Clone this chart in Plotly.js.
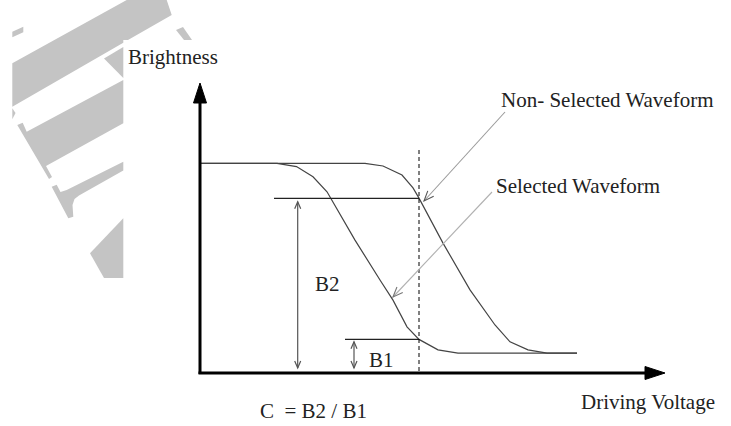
<!DOCTYPE html>
<html>
<head>
<meta charset="utf-8">
<script src="https://cdn.plot.ly/plotly-3.0.1.min.js"></script>
<style>html,body{margin:0;padding:0;background:#fff;}#chart{width:731px;height:426px;}</style>
</head>
<body>
<div id="chart"></div>
<script>
// ---- data (driving voltage units, brightness units) ----
const nonSelectedV = [0, 3.3, 3.66, 4.04, 4.26, 4.38, 4.86, 5.4, 5.9, 6.2, 6.56, 6.94, 7.54];
const nonSelectedB = [6.99, 6.99, 6.9, 6.6, 6.17, 5.83, 4.33, 2.77, 1.6, 1.04, 0.77, 0.66, 0.66];
const selectedV = [0, 1.54, 1.93, 2.26, 2.54, 2.67, 3.1, 3.6, 3.86, 4.14, 4.38, 4.76, 5.16, 7.54];
const selectedB = [6.99, 6.99, 6.88, 6.54, 6.04, 5.66, 4.43, 3.1, 2.43, 1.54, 1.12, 0.77, 0.66, 0.66];
const levelB2 = 5.82;
const levelB1 = 1.12;
const selectV = 4.38;
const labels = {
  yTitle: 'Brightness', xTitle: 'Driving Voltage',
  nonSel: 'Non- Selected Waveform', sel: 'Selected Waveform',
  b2: 'B2', b1: 'B1', formula: 'C&nbsp;&nbsp;= B2 / B1'
};

// ---- pixel <-> data helpers (plot area = full page) ----
const W = 731, H = 426, OX = 200, OY = 373, SX = 50, SY = 30;
const X = px => (px - OX) / SX;
const Y = py => (OY - py) / SY;
const P = pts => 'M ' + pts.map(p => X(p[0]) + ',' + Y(p[1])).join(' L ') + ' Z';
const PL = pts => 'M ' + pts.map(p => X(p[0]) + ',' + Y(p[1])).join(' L ');
function openHead(from, tip, len, hw) {
  const dx = tip[0] - from[0], dy = tip[1] - from[1];
  const d = Math.hypot(dx, dy), ux = dx / d, uy = dy / d;
  const bx = tip[0] - ux * len, by = tip[1] - uy * len;
  return PL([[bx - uy * hw, by + ux * hw], tip, [bx + uy * hw, by - ux * hw]]);
}

const shapes = [];
// watermark (background decoration)
const wm = '#c4c4c4';
[
  [[12.3,31.7],[23.3,26.7],[23.3,32.3],[12.3,37.3]],
  [[12.3,63.3],[126.7,0],[166.7,0],[171.7,15],[128,40],[123.3,40],[123.3,42.7],[12.3,106.7]],
  [[176,30],[183,27],[192,40],[184,40]],
  [[104,58.5],[123.3,47],[123.3,78]],
  [[12.3,108.3],[15.5,113],[12.3,119.3]],
  [[17.3,125],[22.7,122.7],[26.7,131.7],[123.3,80],[123.3,123.3],[46,166],[52,177],[49,179]],
  [[51.7,186.7],[56.7,184.7],[60.5,192],[66.7,190],[123.3,161.7],[123.3,170.5],[79,195.5],[74.5,199],[72.5,205],[73.3,216.7],[68.3,218.3]],
  [[90,253.3],[123.3,218.3],[123.3,278],[104,278]]
].forEach(poly => shapes.push({type:'path', path:P(poly), xref:'x', yref:'y', fillcolor:wm, line:{width:0}, layer:'below'}));

// axes with arrow heads
shapes.push({type:'line', xref:'x', yref:'y', x0:0, y0:Y(374), x1:0, y1:Y(100), line:{color:'#000', width:3}});
shapes.push({type:'path', xref:'x', yref:'y', path:P([[200,83],[193.5,103],[206.5,103]]), fillcolor:'#000', line:{color:'#000', width:1}});
shapes.push({type:'line', xref:'x', yref:'y', x0:X(198.5), y0:0, x1:X(648), y1:0, line:{color:'#000', width:3}});
shapes.push({type:'path', xref:'x', yref:'y', path:P([[665,373],[645,366.5],[645,379.5]]), fillcolor:'#000', line:{color:'#000', width:1}});

// reference lines
shapes.push({type:'line', xref:'x', yref:'y', x0:X(274), y0:levelB2, x1:selectV, y1:levelB2, line:{color:'#222', width:1.2}});
shapes.push({type:'line', xref:'x', yref:'y', x0:X(345), y0:levelB1, x1:selectV, y1:levelB1, line:{color:'#222', width:1.2}});
shapes.push({type:'line', xref:'x', yref:'y', x0:selectV, y0:Y(150), x1:selectV, y1:0, line:{color:'#000', width:1, dash:'4px,3px'}});

// B2 / B1 double arrows
function dbl(xpx, y0px, y1px, color) {
  shapes.push({type:'line', xref:'x', yref:'y', x0:X(xpx), y0:Y(y0px), x1:X(xpx), y1:Y(y1px), line:{color:color, width:1.2}});
  shapes.push({type:'path', xref:'x', yref:'y', path:openHead([xpx, y1px], [xpx, y0px], 7, 3), line:{color:color, width:1.2}});
  shapes.push({type:'path', xref:'x', yref:'y', path:openHead([xpx, y0px], [xpx, y1px], 7, 3), line:{color:color, width:1.2}});
}
dbl(297.7, 201.7, 368, '#555');
dbl(354, 341.7, 368, '#555');

// pointer arrows
function pointer(from, tip, lineColor, headColor) {
  shapes.push({type:'path', xref:'x', yref:'y', path:PL([from, tip]), line:{color:lineColor, width:1.1}});
  shapes.push({type:'path', xref:'x', yref:'y', path:openHead(from, tip, 10, 4), line:{color:headColor, width:1.1}});
}
pointer([505,112], [424,201], '#9a9a9a', '#555');
pointer([492,192], [393,297], '#b0b0b0', '#777');

const font = {family:'"Liberation Serif", "Times New Roman", serif', size:21, color:'#222'};
function ann(text, xpx, ypx, xanchor) {
  return {text:text, x:X(xpx), y:Y(ypx), xref:'x', yref:'y', xanchor:xanchor, yanchor:'middle', showarrow:false, font:font};
}
const annotations = [
  ann(labels.yTitle, 172.7, 57, 'center'),
  ann(labels.nonSel, 499, 100, 'left'),
  ann(labels.sel, 494, 186, 'left'),
  ann(labels.b2, 327.5, 283.5, 'center'),
  ann(labels.b1, 381.5, 360, 'center'),
  ann(labels.xTitle, 579, 402, 'left'),
  ann(labels.formula, 258, 411, 'left')
];

const traces = [
  {x:nonSelectedV, y:nonSelectedB, type:'scatter', mode:'lines', line:{color:'#444', width:1.2}, hoverinfo:'skip', name:'Non-Selected'},
  {x:selectedV, y:selectedB, type:'scatter', mode:'lines', line:{color:'#444', width:1.2}, hoverinfo:'skip', name:'Selected'}
];

const layout = {
  width:W, height:H,
  margin:{l:0, r:0, t:0, b:0, pad:0},
  paper_bgcolor:'#fff', plot_bgcolor:'#fff',
  showlegend:false,
  xaxis:{range:[X(0), X(W)], visible:false, fixedrange:true},
  yaxis:{range:[Y(H), Y(0)], visible:false, fixedrange:true},
  shapes:shapes,
  annotations:annotations
};
Plotly.newPlot('chart', traces, layout, {staticPlot:true, displayModeBar:false});
</script>
</body>
</html>
